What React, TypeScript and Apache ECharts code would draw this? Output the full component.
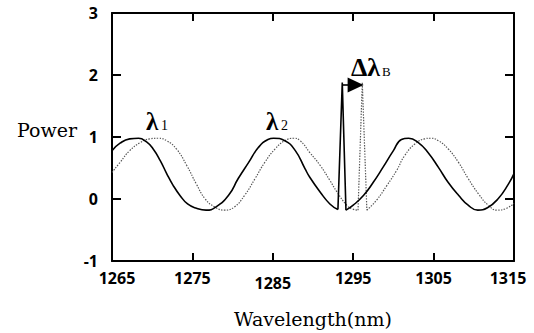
import React, { useEffect, useRef } from "react";
import * as echarts from "echarts";

const xMin = 1265;
const xMax = 1315;
const xStep = 10;
const yMin = -1;
const yMax = 3;
const yStep = 1;

// Reference spectrum (solid)
const solidLeft: [number, number][] = [
  [1265, 0.78], [1266.0, 0.9], [1267.2, 0.97], [1268.3, 0.98], [1269.3, 0.92],
  [1270.1, 0.81], [1271.0, 0.62], [1271.8, 0.41], [1272.6, 0.22], [1273.5, 0.05],
  [1274.4, -0.08], [1275.5, -0.15], [1276.7, -0.18], [1277.9, -0.13], [1279.5, 0.06],
  [1280.7, 0.33], [1282.0, 0.59], [1283.2, 0.83], [1284.4, 0.96], [1285.1, 0.98],
  [1286.5, 0.94], [1287.8, 0.78], [1289.0, 0.49], [1289.6, 0.35], [1290.9, 0.11],
  [1292.1, -0.08], [1293.1, -0.17],
];
const solidSpike: [number, number][] = [[1293.1, -0.17], [1293.64, 1.88], [1294.1, -0.18]];
const solidRight: [number, number][] = [
  [1294.1, -0.18], [1295.0, -0.1], [1296.3, 0.06], [1297.5, 0.27], [1298.7, 0.51],
  [1300.0, 0.78], [1301.0, 0.96], [1301.9, 0.98], [1303.1, 0.91], [1304.3, 0.75],
  [1305.6, 0.51], [1306.8, 0.27], [1308.1, 0.06], [1309.3, -0.1], [1310.5, -0.18],
  [1311.7, -0.14], [1313.0, 0.0], [1314.3, 0.24], [1315, 0.41],
];

// Shifted spectrum (dotted)
const dottedLeft: [number, number][] = [
  [1265, 0.43], [1266.0, 0.59], [1267.2, 0.78], [1268.5, 0.91], [1269.7, 0.97],
  [1270.8, 0.98], [1271.8, 0.94], [1273.0, 0.81], [1274.3, 0.54], [1275.5, 0.24],
  [1276.6, 0.0], [1277.8, -0.13], [1279.0, -0.18], [1280.2, -0.13], [1281.5, 0.06],
  [1282.8, 0.33], [1284.0, 0.59], [1285.3, 0.81], [1286.5, 0.94], [1287.6, 0.98],
  [1288.4, 0.94], [1289.6, 0.75], [1290.9, 0.54], [1292.1, 0.3], [1293.0, 0.11],
  [1294.2, -0.1], [1294.9, -0.16], [1295.6, -0.18],
];
const dottedSpike: [number, number][] = [[1295.6, -0.18], [1296.13, 1.88], [1296.7, -0.18]];
const dottedRight: [number, number][] = [
  [1296.7, -0.18], [1297.9, -0.02], [1299.2, 0.22], [1300.4, 0.46], [1301.4, 0.7],
  [1302.7, 0.89], [1303.9, 0.97], [1304.6, 0.98], [1305.6, 0.94], [1306.8, 0.81],
  [1308.1, 0.59], [1309.3, 0.33], [1310.6, 0.08], [1311.8, -0.1], [1312.9, -0.18],
  [1313.9, -0.16], [1315, -0.07],
];

// Shift arrow (Δλ_B)
const arrowStart: [number, number] = [1293.64, 1.84];
const arrowEnd: [number, number] = [1295.3, 1.84];

const xName = "Wavelength(nm)";
const yName = "Power";

export default function App() {
  const ref = useRef<HTMLDivElement>(null);

  useEffect(() => {
    const chart = echarts.init(ref.current!, null, { renderer: "svg" });

    const tickFont = {
      color: "#000",
      fontFamily: "Noto Sans",
      fontWeight: "bold" as const,
      fontSize: 16,
    };
    const tickLabel = { ...tickFont, formatter: (v: number) => String(v) };
    const xTickLabel = {
      ...tickFont,
      margin: 9,
      formatter: (v: number) => {
        if (v === xMin) return `{first|${v}}`;
        if (v === xMax) return `{last|${v}}`;
        if (v === 1285) return `{low|${v}}`;
        return `{n|${v}}`;
      },
      rich: {
        n: { ...tickFont },
        first: { ...tickFont, padding: [0, 0, 0, 10] },
        last: { ...tickFont, padding: [0, 12, 0, 0] },
        low: { ...tickFont, padding: [5, 0, 0, 0] },
      },
    };
    const axisLine = { show: true, onZero: false, lineStyle: { color: "#000", width: 2 } };
    const axisTick = { show: true, inside: true, length: 8, lineStyle: { color: "#000", width: 2 } };

    const solidStyle = { color: "#000", width: 1.6, type: "solid" as const };
    const dotStyle = { color: "#555", width: 1.2, type: [1.4, 1.4] as any };

    const mkLine = (name: string, data: [number, number][], style: any, smooth: boolean, z: number, extra: any = {}) => ({
      name,
      type: "line",
      data,
      smooth: smooth ? 0.5 : false,
      showSymbol: false,
      symbol: "none",
      lineStyle: style,
      itemStyle: { color: style.color },
      z,
      silent: true,
      ...extra,
    });

    chart.setOption({
      animation: false,
      backgroundColor: "#fff",
      grid: { left: 112, right: 20, top: 13, bottom: 71, containLabel: false },
      xAxis: [
        {
          type: "value",
          min: xMin,
          max: xMax,
          interval: xStep,
          position: "bottom",
          axisLine,
          axisTick,
          splitLine: { show: false },
          axisLabel: xTickLabel,
          name: xName,
          nameLocation: "middle",
          nameGap: 48,
          nameTextStyle: { color: "#000", fontFamily: "DejaVu Serif", fontSize: 19 },
        },
        {
          type: "value",
          min: xMin,
          max: xMax,
          interval: xStep,
          position: "top",
          axisLine,
          axisTick,
          splitLine: { show: false },
          axisLabel: { show: false },
        },
      ],
      yAxis: [
        {
          type: "value",
          min: yMin,
          max: yMax,
          interval: yStep,
          position: "left",
          axisLine,
          axisTick: { ...axisTick, length: 9 },
          splitLine: { show: false },
          axisLabel: { ...tickLabel, margin: 14 },
        },
        {
          type: "value",
          min: yMin,
          max: yMax,
          interval: yStep,
          position: "right",
          axisLine,
          axisTick: { ...axisTick, length: 9 },
          splitLine: { show: false },
          axisLabel: { show: false },
        },
      ],
      series: [
        mkLine("dottedLeft", dottedLeft, dotStyle, true, 2),
        mkLine("dottedSpike", dottedSpike, dotStyle, false, 2),
        mkLine("dottedRight", dottedRight, dotStyle, true, 2),
        mkLine("solidLeft", solidLeft, solidStyle, true, 3),
        mkLine("solidSpike", solidSpike, solidStyle, false, 3, {
          markLine: {
            silent: true,
            animation: false,
            symbol: ["none", "triangle"],
            symbolSize: [15, 16],
            label: { show: false },
            lineStyle: { color: "#000", width: 1.6, type: "solid" },
            itemStyle: { color: "#000" },
            data: [[{ coord: arrowStart }, { coord: arrowEnd }]],
          },
        }),
        mkLine("solidRight", solidRight, solidStyle, true, 3),
      ],
      graphic: [
        {
          type: "text",
          x: 17,
          y: 130,
          style: { text: yName, font: '19px "DejaVu Serif"', fill: "#000", align: "left", verticalAlign: "middle" },
        },
        {
          type: "text",
          x: 146,
          y: 121,
          style: { text: "λ", font: 'bold 25px "Liberation Serif"', fill: "#000", align: "left", verticalAlign: "middle" },
        },
        {
          type: "text",
          x: 161,
          y: 125,
          style: { text: "1", font: '14px "Liberation Serif"', fill: "#000", align: "left", verticalAlign: "middle" },
        },
        {
          type: "text",
          x: 266,
          y: 121,
          style: { text: "λ", font: 'bold 25px "Liberation Serif"', fill: "#000", align: "left", verticalAlign: "middle" },
        },
        {
          type: "text",
          x: 281,
          y: 125,
          style: { text: "2", font: '14px "Liberation Serif"', fill: "#000", align: "left", verticalAlign: "middle" },
        },
        {
          type: "text",
          x: 351,
          y: 67,
          style: { text: "Δλ", font: 'bold 26px "Liberation Serif"', fill: "#000", align: "left", verticalAlign: "middle" },
        },
        {
          type: "text",
          x: 382,
          y: 71,
          style: { text: "B", font: '13px "Liberation Serif"', fill: "#000", align: "left", verticalAlign: "middle" },
        },
      ],
    });

    return () => chart.dispose();
  }, []);

  return (
    <div
      ref={ref}
      style={{ position: "fixed", left: 0, top: 0, width: 534, height: 333, background: "#fff" }}
    />
  );
}
